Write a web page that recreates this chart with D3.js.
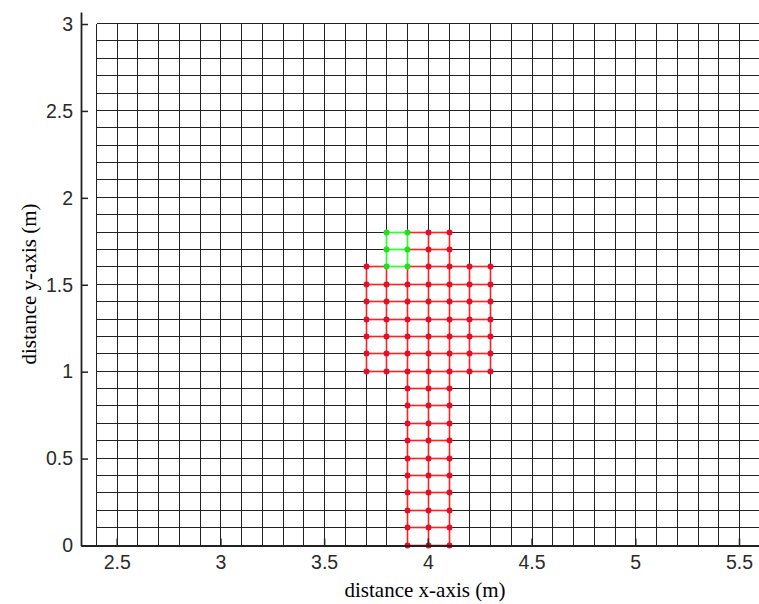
<!DOCTYPE html>
<html>
<head>
<meta charset="utf-8">
<script src="https://cdn.jsdelivr.net/npm/d3@7/dist/d3.min.js"></script>
<style>
  html, body { margin: 0; padding: 0; background: #fff; }
  svg { display: block; }
</style>
</head>
<body>
<svg id="chart" width="759" height="604"></svg>
<script>
// ---- data ----
const xTicks = [2.5, 3, 3.5, 4, 4.5, 5, 5.5];
const xTickLabels = ["2.5", "3", "3.5", "4", "4.5", "5", "5.5"];
const yTicks = [0, 0.5, 1, 1.5, 2, 2.5, 3];
const yTickLabels = ["0", "0.5", "1", "1.5", "2", "2.5", "3"];
const gridX = [2.4,2.5,2.6,2.7,2.8,2.9,3.0,3.1,3.2,3.3,3.4,3.5,3.6,3.7,3.8,3.9,4.0,4.1,4.2,4.3,4.4,4.5,4.6,4.7,4.8,4.9,5.0,5.1,5.2,5.3,5.4,5.5,5.6];
const gridY = [0,0.1,0.2,0.3,0.4,0.5,0.6,0.7,0.8,0.9,1.0,1.1,1.2,1.3,1.4,1.5,1.6,1.7,1.8,1.9,2.0,2.1,2.2,2.3,2.4,2.5,2.6,2.7,2.8,2.9,3.0];
// red node rows: [y, [x...]]
const redNodeRows = [
  [0.0, [3.9, 4.0, 4.1]],
  [0.1, [3.9, 4.0, 4.1]],
  [0.2, [3.9, 4.0, 4.1]],
  [0.3, [3.9, 4.0, 4.1]],
  [0.4, [3.9, 4.0, 4.1]],
  [0.5, [3.9, 4.0, 4.1]],
  [0.6, [3.9, 4.0, 4.1]],
  [0.7, [3.9, 4.0, 4.1]],
  [0.8, [3.9, 4.0, 4.1]],
  [0.9, [3.9, 4.0, 4.1]],
  [1.0, [3.7, 3.8, 3.9, 4.0, 4.1, 4.2, 4.3]],
  [1.1, [3.7, 3.8, 3.9, 4.0, 4.1, 4.2, 4.3]],
  [1.2, [3.7, 3.8, 3.9, 4.0, 4.1, 4.2, 4.3]],
  [1.3, [3.7, 3.8, 3.9, 4.0, 4.1, 4.2, 4.3]],
  [1.4, [3.7, 3.8, 3.9, 4.0, 4.1, 4.2, 4.3]],
  [1.5, [3.7, 3.8, 3.9, 4.0, 4.1, 4.2, 4.3]],
  [1.6, [3.7, 4.0, 4.1, 4.2, 4.3]],
  [1.7, [4.0, 4.1]],
  [1.8, [4.0, 4.1]]
];
const greenNodeRows = [
  [1.6, [3.8, 3.9]],
  [1.7, [3.8, 3.9]],
  [1.8, [3.8, 3.9]]
];
const xTitle = "distance x-axis (m)";
const yTitle = "distance y-axis (m)";

// ---- scales ----
const x0 = d3.scaleLinear().domain([2.5, 5.5]).range([116.7, 739]);
const x = d3.scaleLinear().domain([x0.invert(81), x0.invert(760)]).range([81, 760]);
const y0 = d3.scaleLinear().domain([0, 3]).range([545.5, 24]);
const y = d3.scaleLinear().domain([y0.invert(545.5), y0.invert(12)]).range([545.5, 12]);

const svg = d3.select("#chart");

// ---- grid ----
const px = v => Math.round(x(v)) + 0.5;
const py = v => Math.round(y(v)) - 0.5;
const grid = svg.append("g").attr("stroke", "#222").attr("stroke-width", 1).attr("shape-rendering", "crispEdges");
grid.selectAll("line.v").data(gridX).join("line").attr("class", "v")
  .attr("x1", d => px(d)).attr("x2", d => px(d))
  .attr("y1", py(0)).attr("y2", py(3));
grid.selectAll("line.h").data(gridY).join("line").attr("class", "h")
  .attr("y1", d => py(d)).attr("y2", d => py(d))
  .attr("x1", px(2.4)).attr("x2", px(5.6));

// ---- mesh ----
function flatten(rows, kind) {
  const out = [];
  rows.forEach(([yy, xs]) => xs.forEach(xx => out.push({x: xx, y: yy, kind})));
  return out;
}
const nodes = flatten(redNodeRows, "red").concat(flatten(greenNodeRows, "green"));
const key = (a, b) => Math.round(a * 10) + "_" + Math.round(b * 10);
const nodeMap = new Map(nodes.map(n => [key(n.x, n.y), n]));
const edges = [];
nodes.forEach(n => {
  [[0.1, 0], [0, 0.1]].forEach(([dx, dy]) => {
    const m = nodeMap.get(key(n.x + dx, n.y + dy));
    if (m) edges.push({a: n, b: m, kind: (n.kind === "green" && m.kind === "green") ? "green" : "red"});
  });
});
const lineColor = {red: "#ff2020", green: "#33ff33"};
const dotColor = {red: "#e0102a", green: "#22dd22"};
const sortedEdges = edges.slice().sort((a, b) => (a.kind === "green") - (b.kind === "green"));
svg.append("g").selectAll("line").data(sortedEdges).join("line")
  .attr("x1", d => px(d.a.x)).attr("y1", d => py(d.a.y))
  .attr("x2", d => px(d.b.x)).attr("y2", d => py(d.b.y))
  .attr("stroke", d => lineColor[d.kind])
  .attr("stroke-width", d => d.kind === "green" ? 1.8 : 1.6);
svg.append("g").selectAll("circle").data(nodes).join("circle")
  .attr("cx", d => px(d.x)).attr("cy", d => py(d.y)).attr("r", 3)
  .attr("fill", d => dotColor[d.kind]);

// ---- axes ----
const xAxis = d3.axisBottom(x).tickValues(xTicks).tickFormat((d, i) => xTickLabels[i])
  .tickSizeInner(-7).tickSizeOuter(0).tickPadding(10);
const yAxis = d3.axisLeft(y).tickValues(yTicks).tickFormat((d, i) => yTickLabels[i])
  .tickSizeInner(-7).tickSizeOuter(0).tickPadding(8);

const gx = svg.append("g").attr("transform", "translate(0,545.5)").call(xAxis);
const gy = svg.append("g").attr("transform", "translate(81,0)").call(yAxis);
[gx, gy].forEach(g => {
  g.select(".domain").attr("stroke", "#222").attr("stroke-width", 1.8);
  g.selectAll(".tick line").attr("stroke", "#222").attr("stroke-width", 1.5);
  g.selectAll(".tick text").attr("fill", "#2a2a2a")
    .style("font-family", "'Liberation Sans', Arial, sans-serif").style("font-size", "19.5px");
});

// ---- titles ----
svg.append("text").attr("x", 425).attr("y", 597).attr("text-anchor", "middle")
  .style("font-family", "'Liberation Serif', 'Times New Roman', serif").style("font-size", "21px")
  .attr("fill", "#000").text(xTitle);
svg.append("text").attr("transform", "translate(36,284) rotate(-90)").attr("text-anchor", "middle")
  .style("font-family", "'Liberation Serif', 'Times New Roman', serif").style("font-size", "21px")
  .attr("fill", "#000").text(yTitle);
</script>
</body>
</html>
